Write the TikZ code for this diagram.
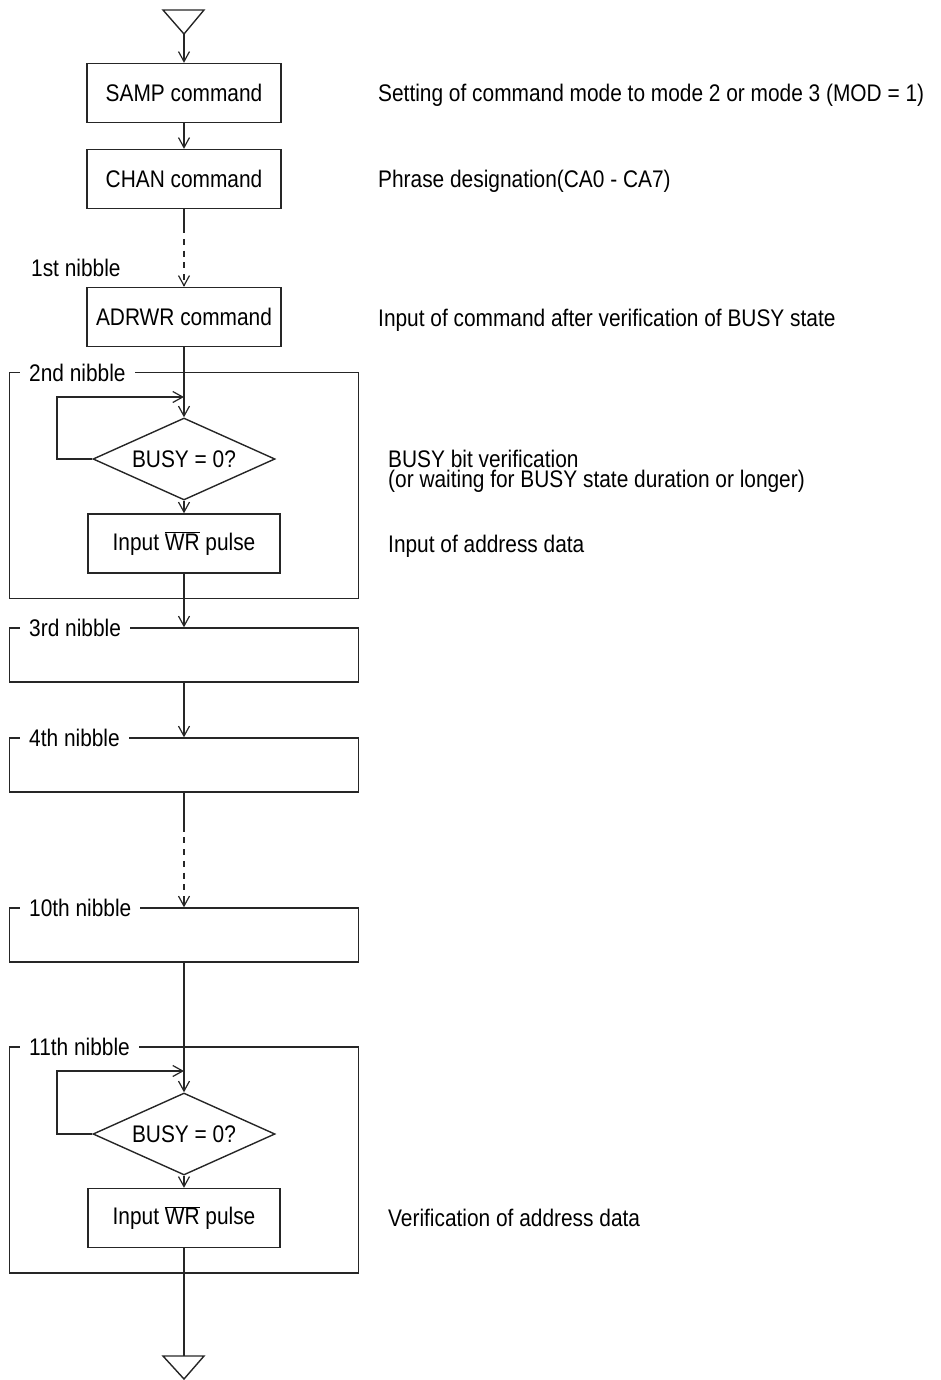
\documentclass[tikz,border=0pt]{standalone}
\usepackage{fontspec}
\setmainfont{Liberation Sans}[FakeStretch=0.87]
\usetikzlibrary{arrows.meta,shapes.geometric}
\tikzset{
  every node/.style={font=\fontsize{24}{20}\selectfont},
  line/.style={line width=1.4pt,draw=black!85},
  arr/.style={line, -{Straight Barb[length=10pt,width=11pt,line width=1.2pt]}},
  dsh/.style={line, dash pattern=on 6pt off 5.7pt},
  proc/.style={line, rectangle, minimum width=194pt, minimum height=59pt, inner sep=0pt},
  dec/.style={line, diamond, minimum width=182pt, minimum height=82pt, inner sep=0pt, aspect=2.2},
  frame/.style={line, rectangle, minimum width=349pt, inner sep=0pt},
  flabel/.style={fill=white, inner xsep=9pt, inner ysep=1pt, anchor=west},
  note/.style={anchor=base west, inner sep=0pt, align=left},
}
\begin{document}
\begin{tikzpicture}[x=1pt,y=-1pt]
\useasboundingbox (0,0) rectangle (941,1380);
% start triangle
\draw[line] (163,10) -- (204,10) -- (184,34) -- cycle;
\coordinate (start) at (184,34);
% boxes
\node[proc] (samp) at (184,93) {SAMP command};
\node[proc] (chan) at (184,179) {CHAN command};
\node[proc] (adr) at (184,317) {ADRWR command};
\node[anchor=base west, inner sep=0pt] (l1) at (31,276.7) {1st nibble};
% frame 2
\node[frame, minimum height=226pt] (f2) at (184,485.5) {};
\node[flabel] (l2) at (20,372.5) {2nd nibble};
\node[dec] (d1) at (184,459) {BUSY = 0?};
\node[proc, minimum width=192pt] (w1) at (184,543.5) {Input $\overline{\hbox{WR}}$ pulse};
\coordinate (lp1) at (57,397);
\coordinate (lp1e) at (184,397);
% frame 3
\node[frame, minimum height=54pt] (f3) at (184,655) {};
\node[flabel] (l3) at (20,628) {3rd nibble};
% frame 4
\node[frame, minimum height=54pt] (f4) at (184,765) {};
\node[flabel] (l4) at (20,738) {4th nibble};
% frame 10
\node[frame, minimum height=54pt] (f10) at (184,935) {};
\node[flabel] (l10) at (20,908) {10th nibble};
% frame 11
\node[frame, minimum height=226pt] (f11) at (184,1160) {};
\node[flabel] (l11) at (20,1047) {11th nibble};
\node[dec] (d2) at (184,1134) {BUSY = 0?};
\node[proc, minimum width=192pt] (w2) at (184,1218) {Input $\overline{\hbox{WR}}$ pulse};
\coordinate (lp2) at (57,1071);
\coordinate (lp2e) at (184,1071);
% end triangle
\coordinate (stop) at (184,1356);
\draw[line] (163,1356) -- (204,1356) -- (184,1379) -- cycle;
% connectors
\draw[arr] (start) -- (samp.north);
\draw[arr] (samp.south) -- (chan.north);
\draw[line] (chan.south) -- ++(0,18) coordinate (c1);
\draw[dsh] (c1) -- ++(0,58) coordinate (c2);
\draw[arr] (c2) -- (adr.north);
\draw[arr] (adr.south) -- (d1.north);
\draw[arr] (d1.west) -| (lp1) -- (lp1e);
\draw[arr] (d1.south) -- (w1.north);
\draw[arr] (w1.south) -- (f3.north);
\draw[arr] (f3.south) -- (f4.north);
\draw[line] (f4.south) -- ++(0,33) coordinate (c3);
\draw[dsh] (c3) -- ++(0,76) coordinate (c4);
\draw[arr] (c4) -- (f10.north);
\draw[arr] (f10.south) -- (d2.north);
\draw[arr] (d2.west) -| (lp2) -- (lp2e);
\draw[arr] (d2.south) -- (w2.north);
\draw[line] (w2.south) -- (stop);
% notes
\node[note] (n1) at (378,101.7) {Setting of command mode to mode 2 or mode 3 (MOD = 1)};
\node[note] (n2) at (378,187.5) {Phrase designation(CA0 - CA7)};
\node[note] (n3) at (378,326) {Input of command after verification of BUSY state};
\node[note] (n4) at (388,487) {BUSY bit verification\\(or waiting for BUSY state duration or longer)};
\node[note] (n6) at (388,552) {Input of address data};
\node[note] (n7) at (388,1226) {Verification of address data};
\end{tikzpicture}
\end{document}
